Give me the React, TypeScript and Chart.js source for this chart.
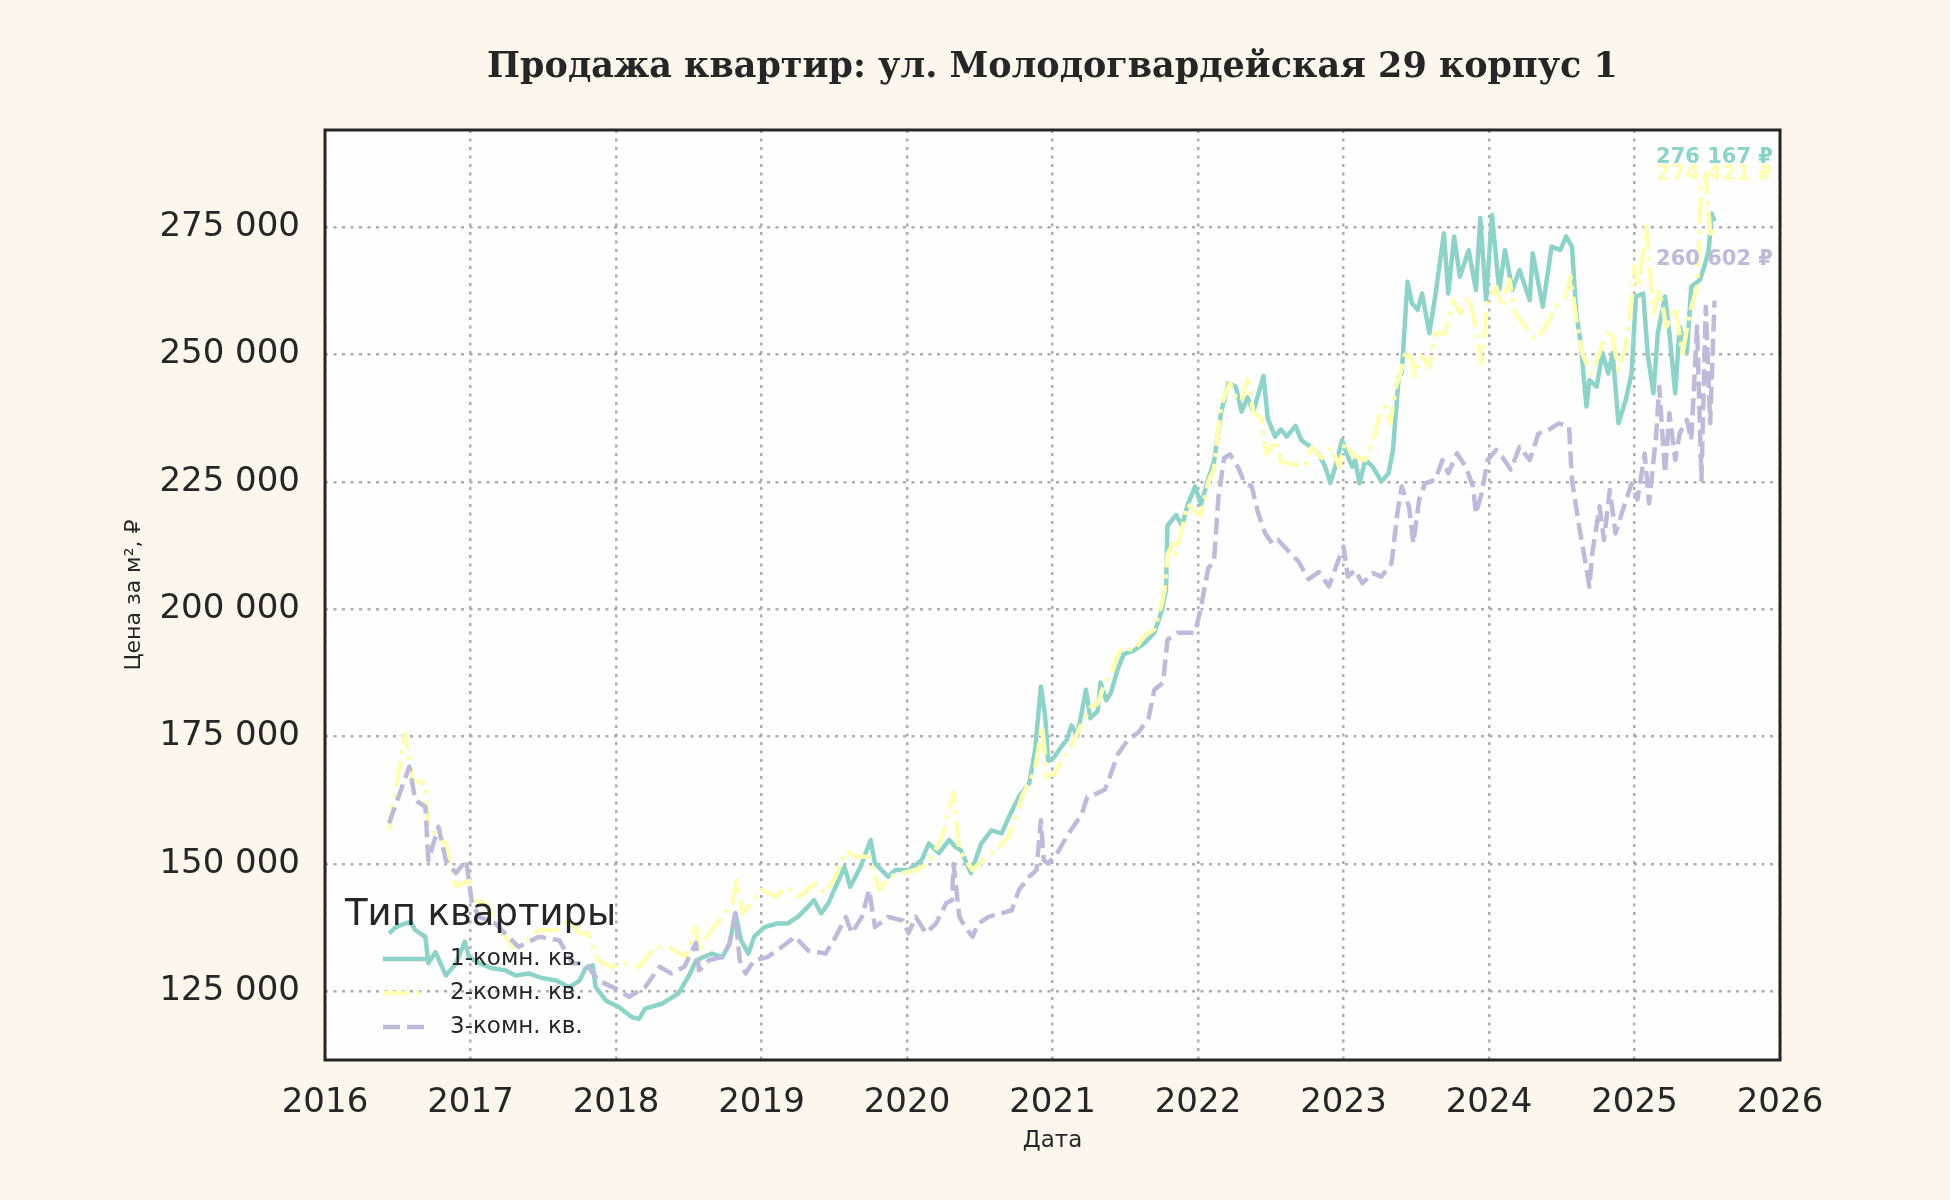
import { useEffect, useRef } from 'react'
import { Chart, registerables } from 'chart.js'
import type { Plugin } from 'chart.js'

Chart.register(...registerables)

const TITLE = 'Продажа квартир: ул. Молодогвардейская 29 корпус 1'
const X_LABEL = 'Дата'
const Y_LABEL = 'Цена за м², ₽'
const LEGEND_TITLE = 'Тип квартиры'

const SERIES_NAMES = ['1-комн. кв.', '2-комн. кв.', '3-комн. кв.']
const SERIES_COLORS = ['#8dd3c7', '#ffffb3', '#bebada']

const YEAR_TICKS = [2016, 2017, 2018, 2019, 2020, 2021, 2022, 2023, 2024, 2025, 2026]
const PRICE_TICKS = [125000, 150000, 175000, 200000, 225000, 250000, 275000]

// 1-room flats
const oneRoomYears = [
  2016.44, 2016.49, 2016.55, 2016.59, 2016.62, 2016.69, 2016.71, 2016.76, 2016.83, 2016.9, 2016.96, 2016.99,
  2017.06, 2017.15, 2017.24, 2017.31, 2017.4, 2017.49, 2017.59, 2017.68, 2017.75, 2017.79, 2017.84, 2017.86, 2017.93,
  2018.02, 2018.11, 2018.16, 2018.2, 2018.32, 2018.43, 2018.5, 2018.55, 2018.6, 2018.66, 2018.73, 2018.78, 2018.82, 2018.86, 2018.91, 2018.95,
  2019.02, 2019.11, 2019.18, 2019.25, 2019.32, 2019.36, 2019.41, 2019.46, 2019.5, 2019.57, 2019.61, 2019.68, 2019.75, 2019.78, 2019.87, 2019.92,
  2020.01, 2020.1, 2020.15, 2020.22, 2020.29, 2020.33, 2020.37, 2020.44, 2020.51, 2020.58, 2020.65, 2020.7, 2020.77, 2020.84, 2020.88, 2020.92, 2020.95, 2020.97,
  2021.01, 2021.06, 2021.1, 2021.13, 2021.17, 2021.23, 2021.26, 2021.31, 2021.33, 2021.37, 2021.4, 2021.45, 2021.49, 2021.56, 2021.63, 2021.7, 2021.75, 2021.78, 2021.79, 2021.85, 2021.89, 2021.93, 2021.98,
  2022.02, 2022.07, 2022.11, 2022.16, 2022.21, 2022.26, 2022.3, 2022.34, 2022.38, 2022.45, 2022.48, 2022.53, 2022.57, 2022.61, 2022.67, 2022.71, 2022.78, 2022.83, 2022.87, 2022.91, 2022.94, 2022.99,
  2023.02, 2023.06, 2023.08, 2023.11, 2023.15, 2023.2, 2023.26, 2023.31, 2023.34, 2023.38, 2023.4, 2023.44, 2023.47, 2023.51, 2023.54, 2023.59, 2023.63, 2023.69, 2023.72, 2023.76, 2023.8, 2023.86, 2023.91, 2023.94, 2023.98,
  2024.02, 2024.07, 2024.11, 2024.16, 2024.21, 2024.28, 2024.3, 2024.37, 2024.43, 2024.49, 2024.53, 2024.57, 2024.6, 2024.63, 2024.67, 2024.69, 2024.74, 2024.78, 2024.82, 2024.85, 2024.89, 2024.94, 2024.98,
  2025.01, 2025.06, 2025.09, 2025.13, 2025.16, 2025.21, 2025.24, 2025.28, 2025.31, 2025.36, 2025.39, 2025.45, 2025.48, 2025.51, 2025.53, 2025.55,
]
const oneRoomPrices = [
  136400, 137600, 138300, 138600, 137000, 135700, 130500, 132700, 128100, 130400, 134700, 131700,
  130500, 129500, 129100, 128100, 128500, 127600, 127100, 125800, 127100, 129500, 130100, 125800, 123200,
  121900, 119900, 119600, 121600, 122600, 124600, 128000, 131000, 131700, 132400, 131700, 134300, 140300, 135000, 132400, 135700,
  137600, 138300, 138300, 139600, 141600, 142900, 140300, 142300, 144900, 149400, 145500, 149400, 154700, 150100, 147500, 148800,
  148800, 150700, 154000, 152100, 154700, 153400, 152700, 148200, 154000, 156600, 156000, 159200, 163200, 165800, 172300, 184800, 178900, 170200,
  170900, 173000, 174400, 177200, 175100, 184200, 178600, 180000, 185600, 182100, 183500, 188400, 191200, 191900, 193300, 195400, 199600, 203800, 216400, 218500, 216400, 220600, 224100,
  220600, 225500, 229000, 238800, 244400, 243700, 238800, 241600, 238800, 245800, 237400, 233900, 235300, 233900, 236000, 233200, 231800, 230400, 228300, 224800, 227600, 233200,
  230600, 228000, 229300, 224700, 229300, 228000, 225100, 226700, 231300, 245700, 246300, 264300, 260100, 258800, 262000, 254200, 261400, 273800, 262000, 273200, 265300, 270500, 262700, 276800, 260700,
  277400, 262700, 270500, 262700, 266600, 260700, 269900, 259400, 271200, 270500, 273200, 271200, 258100, 252200, 239800, 245000, 243700, 250300, 246300, 250300, 236500, 241100, 246300,
  261400, 262000, 250300, 242400, 254200, 261400, 254200, 242400, 255500, 250300, 263300, 264700, 267300, 270500, 277700, 276167,
]

// 2-room flats
const twoRoomYears = [
  2016.44, 2016.55, 2016.6, 2016.69, 2016.71, 2016.83, 2016.9, 2016.99,
  2017.01, 2017.1, 2017.2, 2017.29, 2017.38, 2017.47, 2017.59, 2017.68, 2017.75, 2017.81, 2017.88, 2017.97,
  2018.07, 2018.16, 2018.27, 2018.36, 2018.48, 2018.55, 2018.57, 2018.64, 2018.73, 2018.8, 2018.83, 2018.87, 2018.93,
  2019.0, 2019.1, 2019.17, 2019.26, 2019.37, 2019.44, 2019.51, 2019.58, 2019.65, 2019.74, 2019.81, 2019.88, 2019.97,
  2020.06, 2020.15, 2020.24, 2020.32, 2020.36, 2020.45, 2020.52, 2020.61, 2020.7, 2020.79, 2020.88, 2020.93, 2020.96,
  2021.02, 2021.06, 2021.1, 2021.15, 2021.22, 2021.26, 2021.31, 2021.36, 2021.4, 2021.45, 2021.49, 2021.56, 2021.63, 2021.7, 2021.75, 2021.77, 2021.79, 2021.83, 2021.84, 2021.89, 2021.93, 2021.98,
  2022.02, 2022.07, 2022.11, 2022.16, 2022.22, 2022.26, 2022.3, 2022.34, 2022.38, 2022.44, 2022.47, 2022.53, 2022.57, 2022.67, 2022.74, 2022.78, 2022.85, 2022.92, 2022.97,
  2023.01, 2023.08, 2023.15, 2023.22, 2023.25, 2023.29, 2023.32, 2023.36, 2023.39, 2023.43, 2023.47, 2023.49, 2023.54, 2023.59, 2023.63, 2023.7, 2023.75, 2023.8, 2023.86, 2023.91, 2023.95, 2023.99,
  2024.05, 2024.09, 2024.14, 2024.18, 2024.25, 2024.32, 2024.39, 2024.46, 2024.53, 2024.56, 2024.6, 2024.64, 2024.7, 2024.75, 2024.79, 2024.84, 2024.89, 2024.94, 2024.98,
  2025.0, 2025.03, 2025.08, 2025.13, 2025.17, 2025.22, 2025.28, 2025.33, 2025.38, 2025.43, 2025.46, 2025.49, 2025.52, 2025.55,
]
const twoRoomPrices = [
  156600, 175600, 166500, 165800, 157300, 154000, 145500, 146800,
  142900, 142300, 137600, 133700, 135000, 137000, 137000, 138900, 136400, 136400, 131100, 129800,
  130500, 129800, 133700, 133700, 131700, 137600, 133000, 136400, 139600, 142300, 146800, 140300, 142300,
  144900, 143500, 145500, 143500, 146200, 144200, 147500, 152700, 151400, 151400, 144900, 147500, 148200,
  148800, 150100, 155300, 163900, 152700, 148800, 150700, 152700, 155300, 163200, 168400, 176900, 167100,
  167800, 170400, 171600, 174400, 178600, 180700, 181400, 185600, 187000, 191200, 192600, 191900, 194700, 196100, 201000, 203800, 210800, 212900, 210800, 215700, 220600, 219200,
  218500, 224800, 227600, 240200, 244400, 241600, 240900, 245100, 238800, 237400, 230400, 233200, 229000, 228300, 228300, 231800, 229700, 231800, 228000,
  232600, 230000, 229300, 234500, 238500, 239800, 236500, 243700, 246300, 250900, 248900, 245700, 249600, 247600, 254200, 254200, 260700, 258100, 261400, 255500, 248300, 260700,
  263300, 259400, 264700, 258100, 255500, 252900, 255500, 259400, 261400, 265300, 256800, 250300, 246300, 249600, 252900, 254900, 247000, 251600, 260700,
  267300, 263300, 275100, 258100, 262700, 255500, 259400, 250300, 258100, 263300, 283000, 285500, 273800, 274421,
]

// 3-room flats
const threeRoomYears = [
  2016.44, 2016.58, 2016.62, 2016.69, 2016.71, 2016.78, 2016.83, 2016.9, 2016.97,
  2017.01, 2017.06, 2017.17, 2017.33, 2017.47, 2017.61, 2017.7, 2017.79, 2017.88,
  2018.02, 2018.09, 2018.2, 2018.3, 2018.38, 2018.47, 2018.55, 2018.57, 2018.64, 2018.73, 2018.78, 2018.82, 2018.85, 2018.89, 2018.95,
  2019.04, 2019.14, 2019.23, 2019.32, 2019.44, 2019.51, 2019.58, 2019.62, 2019.69, 2019.74, 2019.78, 2019.87, 2019.97,
  2020.01, 2020.06, 2020.13, 2020.2, 2020.27, 2020.31, 2020.32, 2020.36, 2020.4, 2020.45, 2020.49, 2020.56, 2020.65, 2020.72, 2020.77, 2020.84, 2020.89, 2020.92, 2020.94, 2020.97,
  2021.03, 2021.1, 2021.2, 2021.24, 2021.31, 2021.36, 2021.38, 2021.45, 2021.52, 2021.59, 2021.66, 2021.7, 2021.76, 2021.79, 2021.86, 2021.93, 2021.98,
  2022.02, 2022.07, 2022.11, 2022.14, 2022.18, 2022.22, 2022.28, 2022.32, 2022.37, 2022.41, 2022.46, 2022.51, 2022.55, 2022.62, 2022.69, 2022.76, 2022.83, 2022.9, 2022.94,
  2023.0, 2023.03, 2023.08, 2023.13, 2023.2, 2023.26, 2023.33, 2023.37, 2023.4, 2023.45, 2023.48, 2023.52, 2023.56, 2023.63, 2023.68, 2023.72, 2023.78, 2023.84, 2023.89, 2023.91, 2023.95, 2023.99,
  2024.05, 2024.09, 2024.15, 2024.21, 2024.28, 2024.34, 2024.41, 2024.48, 2024.55, 2024.57, 2024.62, 2024.66, 2024.69, 2024.71, 2024.76, 2024.79, 2024.83, 2024.87, 2024.92, 2024.98,
  2025.02, 2025.07, 2025.1, 2025.15, 2025.17, 2025.21, 2025.24, 2025.28, 2025.31, 2025.36, 2025.39, 2025.43, 2025.46, 2025.49, 2025.52, 2025.55,
]
const threeRoomPrices = [
  158000, 169100, 162500, 161200, 150700, 157300, 150700, 148200, 150700,
  142300, 139600, 138300, 133700, 135700, 135000, 130500, 130500, 127100,
  125200, 123900, 125800, 129800, 128500, 129800, 134500, 129100, 131100, 131700, 134300, 140300, 131100, 128500, 131100,
  131700, 133700, 135700, 133000, 132400, 135700, 139600, 136400, 139600, 144900, 137600, 139600, 138900,
  136400, 139600, 136400, 138300, 142300, 142900, 150000, 139600, 137600, 135700, 138300, 139600, 140300, 140900, 144900, 147500, 148800, 158600, 150700, 150100,
  152000, 155500, 159700, 163200, 163900, 164600, 166000, 171600, 174400, 175800, 178600, 184200, 185600, 194000, 195400, 195400, 195400,
  200300, 208000, 209400, 222000, 229700, 230400, 227600, 224800, 224100, 219200, 215000, 212900, 213600, 211500, 209400, 205900, 207300, 204500, 207700,
  212300, 206400, 207700, 205100, 207100, 206400, 209000, 218800, 224100, 220200, 213000, 221500, 224700, 225400, 229300, 226700, 230600, 228000, 224100, 218800, 222800, 229300,
  231300, 230000, 227400, 231900, 229300, 234500, 235200, 236500, 235900, 225400, 216200, 209700, 204400, 211000, 220200, 213600, 223400, 214900, 219500, 224700,
  221500, 230600, 220800, 234500, 243700, 226700, 238500, 229300, 234500, 237200, 233200, 255500, 225400, 259400, 236500, 260602,
]

// how far above its last point each end label sits, in ₽
const END_LABEL_LIFT = [12600, 10850, 8000]

const PAGE_BG = '#fdf6ec'
const PLOT_BG = '#fefefe'
const INK = '#262626'
const SANS = '"DejaVu Sans", sans-serif'

function formatRub(value: number) {
  return String(Math.round(value)).replace(/\B(?=(\d{3})+(?!\d))/g, ' ')
}

const decorPlugin: Plugin<'line'> = {
  id: 'decor',
  beforeDraw(chart) {
    const { ctx, chartArea, width, height } = chart
    ctx.save()
    ctx.fillStyle = PAGE_BG
    ctx.fillRect(0, 0, width, height)
    ctx.fillStyle = PLOT_BG
    ctx.fillRect(chartArea.left, chartArea.top, chartArea.right - chartArea.left, chartArea.bottom - chartArea.top)
    ctx.restore()
  },
  afterDraw(chart) {
    const { ctx, chartArea } = chart
    const { left, right, top, bottom } = chartArea
    const xScale = chart.scales.x
    const yScale = chart.scales.y
    ctx.save()

    // title
    ctx.fillStyle = INK
    ctx.font = 'bold 35px "DejaVu Serif", serif'
    ctx.textAlign = 'center'
    ctx.textBaseline = 'middle'
    ctx.fillText(TITLE, (left + right) / 2, 68)

    // end labels
    ctx.font = `bold 21px ${SANS}`
    chart.data.datasets.forEach((dataset, i) => {
      const points = dataset.data as { x: number; y: number }[]
      const last = points[points.length - 1]
      ctx.fillStyle = SERIES_COLORS[i]
      ctx.fillText(
        `${formatRub(last.y)} ₽`,
        xScale.getPixelForValue(last.x),
        yScale.getPixelForValue(last.y + END_LABEL_LIFT[i]),
      )
    })

    // legend
    ctx.textAlign = 'left'
    ctx.fillStyle = INK
    ctx.font = `37px ${SANS}`
    ctx.fillText(LEGEND_TITLE, left + 20, bottom - 145)
    ctx.font = `23px ${SANS}`
    chart.data.datasets.forEach((dataset, i) => {
      const rowY = bottom - 101 + i * 34
      ctx.strokeStyle = SERIES_COLORS[i]
      ctx.lineWidth = 4.5
      ctx.setLineDash((dataset as any).borderDash ?? [])
      ctx.beginPath()
      ctx.moveTo(left + 58, rowY)
      ctx.lineTo(left + 102, rowY)
      ctx.stroke()
      ctx.setLineDash([])
      ctx.fillStyle = INK
      ctx.fillText(SERIES_NAMES[i], left + 125, rowY)
    })

    // frame
    ctx.strokeStyle = INK
    ctx.lineWidth = 3
    ctx.strokeRect(left, top, right - left, bottom - top)
    ctx.restore()
  },
}

function toPoints(years: number[], prices: number[]) {
  return years.map((x, i) => ({ x, y: prices[i] }))
}

function App() {
  const canvasRef = useRef<HTMLCanvasElement | null>(null)

  useEffect(() => {
    document.body.style.margin = '0'
    document.body.style.background = PAGE_BG
    if (!canvasRef.current) return undefined

    const gridStyle = {
      color: 'rgba(160, 160, 160, 0.85)',
      lineWidth: 2.5,
      drawTicks: false,
    }

    const chart = new Chart(canvasRef.current, {
      type: 'line',
      data: {
        datasets: [
          {
            label: SERIES_NAMES[0],
            data: toPoints(oneRoomYears, oneRoomPrices),
            borderColor: SERIES_COLORS[0],
            borderWidth: 4.5,
            order: 3,
          },
          {
            label: SERIES_NAMES[1],
            data: toPoints(twoRoomYears, twoRoomPrices),
            borderColor: SERIES_COLORS[1],
            borderWidth: 4.5,
            borderDash: [26, 7, 4, 7],
            order: 2,
          },
          {
            label: SERIES_NAMES[2],
            data: toPoints(threeRoomYears, threeRoomPrices),
            borderColor: SERIES_COLORS[2],
            borderWidth: 4.5,
            borderDash: [17, 7],
            order: 1,
          },
        ],
      },
      options: {
        responsive: true,
        maintainAspectRatio: false,
        animation: false,
        events: [],
        elements: {
          point: { radius: 0 },
          line: { tension: 0, borderJoinStyle: 'round', borderCapStyle: 'butt' },
        },
        layout: {
          padding: { top: 130, right: 170, left: 0, bottom: 0 },
        },
        plugins: {
          legend: { display: false },
          title: { display: false },
          tooltip: { enabled: false },
        },
        scales: {
          x: {
            type: 'linear',
            min: 2016,
            max: 2026,
            afterFit: (scale) => {
              scale.height = 140
            },
            afterBuildTicks: (scale) => {
              scale.ticks = YEAR_TICKS.map((value) => ({ value }))
            },
            ticks: {
              padding: 23,
              color: INK,
              font: { family: SANS, size: 34 },
              maxRotation: 0,
              autoSkip: false,
              callback: (value) => String(value),
            },
            grid: { ...gridStyle, borderDash: [3, 5.5] } as any,
            border: { display: false, dash: [3, 5.5] },
            title: {
              display: true,
              text: X_LABEL,
              color: INK,
              font: { family: SANS, size: 23 },
              padding: { top: 0, bottom: 45 },
            },
          },
          y: {
            type: 'linear',
            min: 111500,
            max: 294100,
            afterFit: (scale) => {
              scale.width = 325
            },
            afterBuildTicks: (scale) => {
              scale.ticks = PRICE_TICKS.map((value) => ({ value }))
            },
            ticks: {
              padding: 25,
              color: INK,
              font: { family: SANS, size: 34 },
              autoSkip: false,
              callback: (value) => formatRub(Number(value)),
            },
            grid: gridStyle,
            border: { display: false, dash: [3, 5.5] },
            title: {
              display: true,
              text: Y_LABEL,
              color: INK,
              font: { family: SANS, size: 22 },
              padding: { top: 121, bottom: 0 },
            },
          },
        },
      },
      plugins: [decorPlugin],
    })

    return () => {
      chart.destroy()
    }
  }, [])

  return (
    <div style={{ width: 1950, height: 1200, position: 'relative', background: PAGE_BG }}>
      <canvas ref={canvasRef} />
    </div>
  )
}

export default App
